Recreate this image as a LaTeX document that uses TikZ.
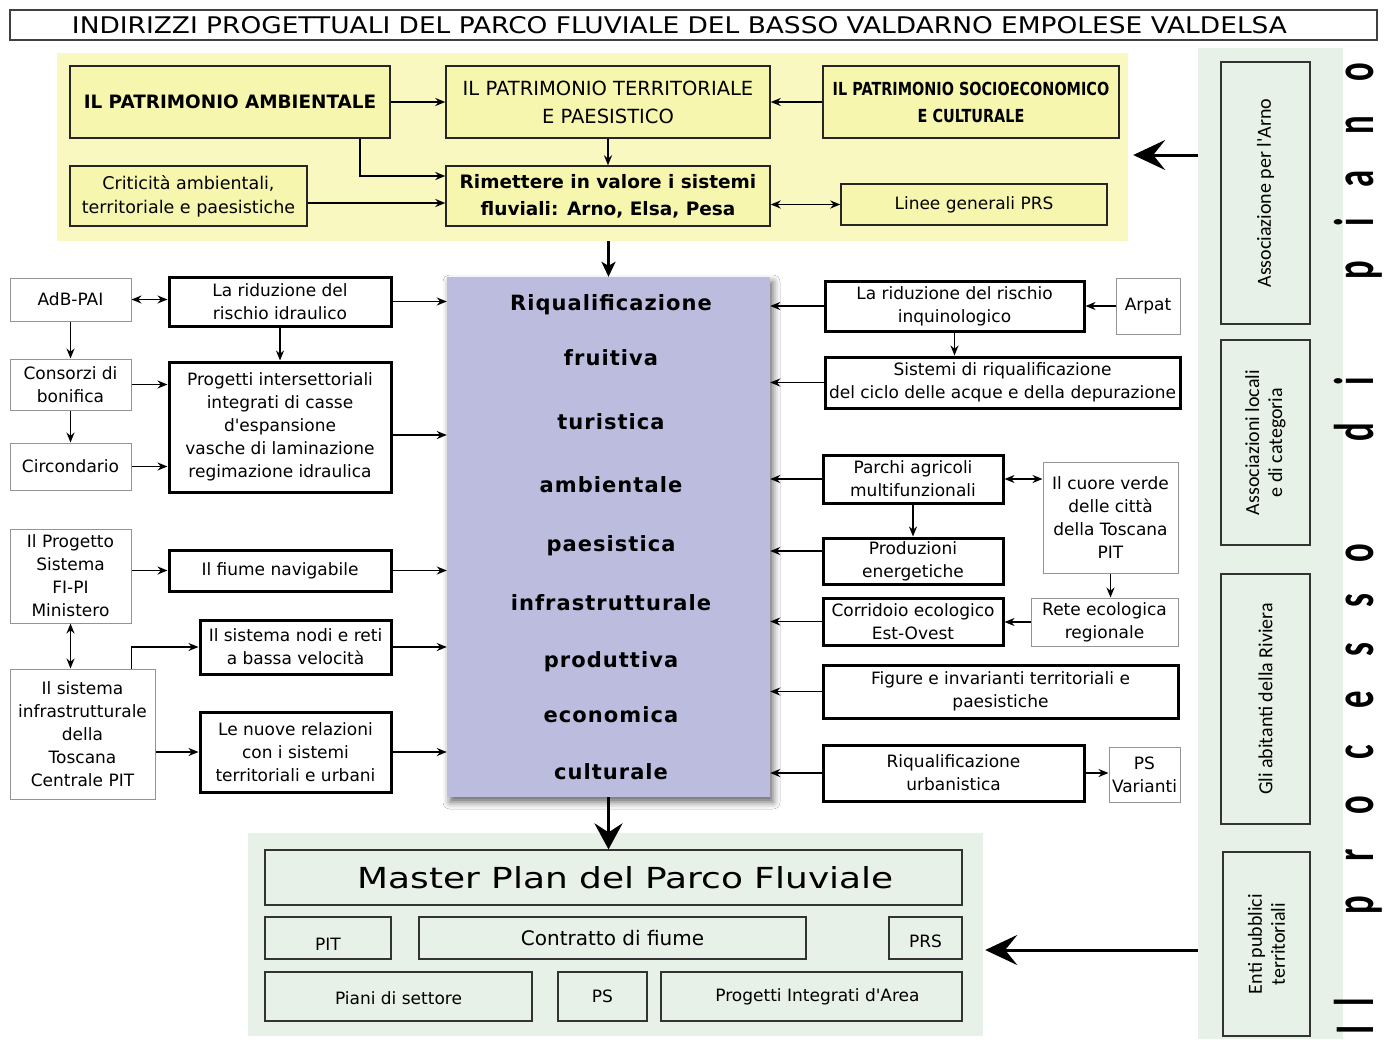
\documentclass[tikz,border=0pt]{standalone}
\usepackage{fontspec}
\usepackage{graphicx}
\setmainfont{DejaVu Sans}
\newfontfamily\carlito{Carlito}
\newfontfamily\condf{DejaVu Sans}[FakeStretch=0.8]
\usetikzlibrary{arrows.meta,shadows.blur,calc}
\definecolor{ypanel}{RGB}{248,248,192}
\definecolor{yboxc}{RGB}{246,246,174}
\definecolor{lav}{RGB}{187,188,222}
\definecolor{gpanel}{RGB}{231,241,231}
\newcommand\bx[7]{\node[#2, minimum width={(#5)-(#3)}, minimum height={(#6)-(#4)}] (#1) at ({((#3)+(#5))/2},{((#4)+(#6))/2}) {#7};}
\newcommand\rbx[6]{\node[gbox, rotate=90, font=\carlito\fontsize{20}{23}\selectfont, minimum width={(#5)-(#3)}, minimum height={(#4)-(#2)}] (#1) at ({((#2)+(#4))/2},{((#3)+(#5))/2}) {#6};}
\begin{document}
\begin{tikzpicture}[x=1pt,y=-1pt,
  every node/.style={inner sep=0pt, align=center},
  sm/.style={font=\fontsize{17}{23}\selectfont},
  thinbox/.style={draw=black!42, line width=1pt, fill=white, sm},
  thickbox/.style={draw=black, line width=3pt, fill=white, sm},
  ybox/.style={draw=black!85, line width=1.4pt, fill=yboxc},
  gbox/.style={draw=black!80, line width=1.3pt},
  arr/.style={line width=1.7pt, -{Stealth[length=10pt,width=8pt]}},
  darr/.style={line width=1.7pt, {Stealth[length=10pt,width=8pt]}-{Stealth[length=10pt,width=8pt]}},
  medarr/.style={line width=2.5pt, -{Stealth[length=15pt,width=14pt,inset=4pt]}},
  bigarr/.style={line width=3pt, -{Stealth[length=32pt,width=30pt,inset=12pt]}},
  bigarrb/.style={line width=3pt, -{Stealth[length=26pt,width=28pt,inset=9pt]}},
  cword/.style={font=\fontsize{21}{24}\selectfont\bfseries\addfontfeature{LetterSpace=5}, anchor=base},
  bigl/.style={font=\carlito\bfseries\fontsize{56}{56}\selectfont, rotate=90, anchor=base},
]
\useasboundingbox (0,0) rectangle (1387,1039);
\fill[white] (0,0) rectangle (1387,1039);

% title
\bx{title}{draw=black!75, line width=1.5pt, fill=white}{10}{10}{1377}{40}{}
\node (titletext) at (679.5,25) {\resizebox{1215pt}{17pt}{\fontsize{20}{24}\selectfont INDIRIZZI PROGETTUALI DEL PARCO FLUVIALE DEL BASSO VALDARNO EMPOLESE VALDELSA}};

% yellow panel
\bx{Y}{fill=ypanel}{57}{53}{1128}{241}{}
\bx{A}{ybox, font=\fontsize{18.4}{22}\selectfont\bfseries}{70}{66}{390}{138}{IL PATRIMONIO AMBIENTALE}
\bx{B}{ybox, font=\fontsize{19.5}{28}\selectfont}{446}{66}{770}{138}{IL PATRIMONIO TERRITORIALE\\E PAESISTICO}
\bx{C}{ybox, font=\condf\fontsize{18}{27}\selectfont\bfseries}{823}{66}{1119}{138}{IL PATRIMONIO SOCIOECONOMICO\\E CULTURALE}
\bx{D}{ybox, font=\fontsize{17.5}{24}\selectfont}{70}{166}{307}{226}{Criticità ambientali,\\territoriale e paesistiche}
\bx{E}{ybox, font=\fontsize{18.5}{27}\selectfont\bfseries}{446}{166}{770}{226}{Rimettere in valore i sistemi\\fluviali: Arno, Elsa, Pesa}
\bx{F}{ybox, font=\fontsize{17}{22}\selectfont}{841}{184}{1107}{225}{Linee generali PRS}

% central box
\bx{R}{fill=lav, blur shadow={shadow xshift=3pt,shadow yshift=-5pt,shadow blur radius=7pt,shadow opacity=60}}{447}{277}{770}{797}{}
\foreach \w/\yy [count=\i] in {Riqualificazione/310, fruitiva/365, turistica/429, ambientale/492, paesistica/551, infrastrutturale/610, produttiva/667, economica/722, culturale/779}
  \node[cword] (rw\i) at (611,\yy) {\w};

% left column
\bx{adb}{thinbox}{10}{278}{131}{321}{AdB-PAI}
\bx{lrid}{thickbox}{169}{277}{391}{326}{La riduzione del\\rischio idraulico}
\bx{cons}{thinbox}{10}{359}{131}{410}{Consorzi di\\bonifica}
\bx{prog}{thickbox}{169}{362}{391}{492}{Progetti intersettoriali\\integrati di casse\\d\textquotesingle espansione\\vasche di laminazione\\regimazione idraulica}
\bx{circ}{thinbox}{10}{443}{131}{490}{Circondario}
\bx{fipi}{thinbox}{10}{529}{131}{623}{Il Progetto\\Sistema\\FI-PI\\Ministero}
\bx{fiume}{thickbox}{169}{550}{391}{591}{Il fiume navigabile}
\bx{nodi}{thickbox}{200}{620}{391}{674}{Il sistema nodi e reti\\a bassa velocità}
\bx{infra}{thinbox}{10}{669}{155}{799}{Il sistema\\infrastrutturale\\della\\Toscana\\Centrale PIT}
\bx{nuove}{thickbox}{200}{712}{391}{792}{Le nuove relazioni\\con i sistemi\\territoriali e urbani}

% right column
\bx{rid2}{thickbox}{825}{281}{1084}{331}{La riduzione del rischio\\inquinologico}
\bx{arpat}{thinbox}{1116}{278}{1180}{334}{Arpat}
\bx{sis}{thickbox}{825}{357}{1180}{408}{Sistemi di riqualificazione\\del ciclo delle acque e della depurazione}
\bx{parchi}{thickbox}{823}{455}{1003}{503}{Parchi agricoli\\multifunzionali}
\bx{cuore}{thinbox}{1043}{462}{1178}{573}{Il cuore verde\\delle città\\della Toscana\\PIT}
\bx{prod}{thickbox}{823}{538}{1003}{584}{Produzioni\\energetiche}
\bx{corr}{thickbox}{823}{598}{1003}{645}{Corridoio ecologico\\Est-Ovest}
\bx{rete}{thinbox}{1031}{598}{1178}{646}{Rete ecologica\\regionale}
\bx{fig}{thickbox}{823}{665}{1178}{718}{Figure e invarianti territoriali e\\paesistiche}
\bx{riq}{thickbox}{823}{745}{1084}{801}{Riqualificazione\\urbanistica}
\bx{psv}{thinbox}{1109}{747}{1180}{802}{PS\\Varianti}

% bottom panel
\bx{BG}{fill=gpanel}{248}{833}{983}{1036}{}
\bx{mp}{gbox}{265}{850}{962}{905}{\hspace*{24pt}\resizebox{536pt}{22pt}{Master Plan del Parco Fluviale}}
\bx{pit}{gbox, sm}{265}{917}{391}{959}{\rule{0pt}{25pt}PIT}
\bx{contr}{gbox, font=\fontsize{20}{24}\selectfont}{419}{917}{806}{959}{Contratto di fiume}
\bx{prs}{gbox, sm}{889}{917}{962}{959}{\rule{0pt}{19pt}PRS}
\bx{piani}{gbox, sm}{265}{972}{532}{1021}{\rule{0pt}{17pt}Piani di settore}
\bx{ps}{gbox, sm}{558}{972}{647}{1021}{PS}
\bx{pia}{gbox, sm}{661}{972}{962}{1021}{\hspace*{12pt}Progetti Integrati d\textquotesingle Area}

% right panel
\bx{G}{fill=gpanel}{1198}{48}{1343}{1039}{}
\rbx{asso}{1221}{62}{1310}{324}{Associazione per l\textquotesingle Arno}
\rbx{locali}{1221}{340}{1310}{545}{Associazioni locali\\e di categoria}
\rbx{abit}{1221}{574}{1310}{824}{Gli abitanti della Riviera}
\rbx{enti}{1223}{852}{1310}{1036}{Enti pubblici\\territoriali}

\foreach \c/\yy [count=\i] in {I/1030, l/1002, p/905, r/855, o/805, c/752, e/700, s/650, s/601, o/553, d/432, i/381, p/270, i/222, a/179, n/125, o/72}
  \node[bigl] (lt\i) at (1373,\yy) {\scalebox{0.62}[1]{\c}};

% arrows yellow
\draw[arr] (A.east) -- (B.west);
\draw[arr] (C.west) -- (B.east);
\draw[arr] (B.south) -- (E.north);
\coordinate (a1) at ([xshift=-31pt]A.south east);
\coordinate (e1) at ([yshift=20pt]E.west);
\draw[arr] (a1) |- (e1);
\coordinate (d1) at ([yshift=-7pt]D.east);
\draw[arr] (d1) -- (d1 -| E.west);
\draw[darr] (E.east |- F.west) -- (F.west);
\draw[medarr] (Y.south -| R.north) -- (R.north);

% arrows left
\draw[darr] (adb.east) -- (adb.east -| lrid.west);
\draw[arr] (adb.south) -- (cons.north);
\draw[arr] (cons.south) -- (circ.north);
\draw[arr] (lrid.south) -- (prog.north);
\draw[arr] (cons.east) -- (cons.east -| prog.west);
\draw[arr] (circ.east) -- (circ.east -| prog.west);
\draw[arr] (lrid.east) -- (lrid.east -| R.west);
\coordinate (p1) at ([yshift=-8pt]prog.east);
\draw[arr] (p1) -- (p1 -| R.west);
\draw[arr] (fipi.east |- fiume.west) -- (fiume.west);
\draw[arr] (fiume.east) -- (fiume.east -| R.west);
\draw[darr] (fipi.south) -- (fipi.south |- infra.north);
\coordinate (i1) at ([xshift=-24pt]infra.north east);
\draw[arr] (i1) |- (nodi.west);
\draw[arr] (nodi.east) -- (nodi.east -| R.west);
\draw[arr] (nuove.west -| infra.east) -- (nuove.west);
\draw[arr] (nuove.east) -- (nuove.east -| R.west);

% arrows right
\draw[arr] (rid2.west) -- (rid2.west -| R.east);
\draw[arr] (arpat.west) -- (arpat.west -| rid2.east);
\draw[arr] (rid2.south) -- (rid2.south |- sis.north);
\draw[arr] (sis.west) -- (sis.west -| R.east);
\draw[arr] (parchi.west) -- (parchi.west -| R.east);
\draw[darr] (parchi.east) -- (parchi.east -| cuore.west);
\draw[arr] (parchi.south) -- (prod.north);
\coordinate (pr1) at ([yshift=10pt]prod.west);
\draw[arr] (pr1) -- (pr1 -| R.east);
\draw[arr] (cuore.south) -- (cuore.south |- rete.north);
\draw[arr] (rete.west) -- (rete.west -| corr.east);
\draw[arr] (corr.west) -- (corr.west -| R.east);
\draw[arr] (fig.west) -- (fig.west -| R.east);
\draw[arr] (riq.west) -- (riq.west -| R.east);
\draw[arr] (riq.east) -- (riq.east -| psv.west);

% big arrows
\draw[bigarrb] (R.south) -- (R.south |- mp.north);
\coordinate (ga1) at (1198,155);
\draw[bigarr, shorten >=5pt] (ga1) -- (ga1 -| Y.east);
\coordinate (ga2) at (1198,950);
\draw[bigarr, shorten >=2pt] (ga2) -- (ga2 -| BG.east);
\end{tikzpicture}
\end{document}
